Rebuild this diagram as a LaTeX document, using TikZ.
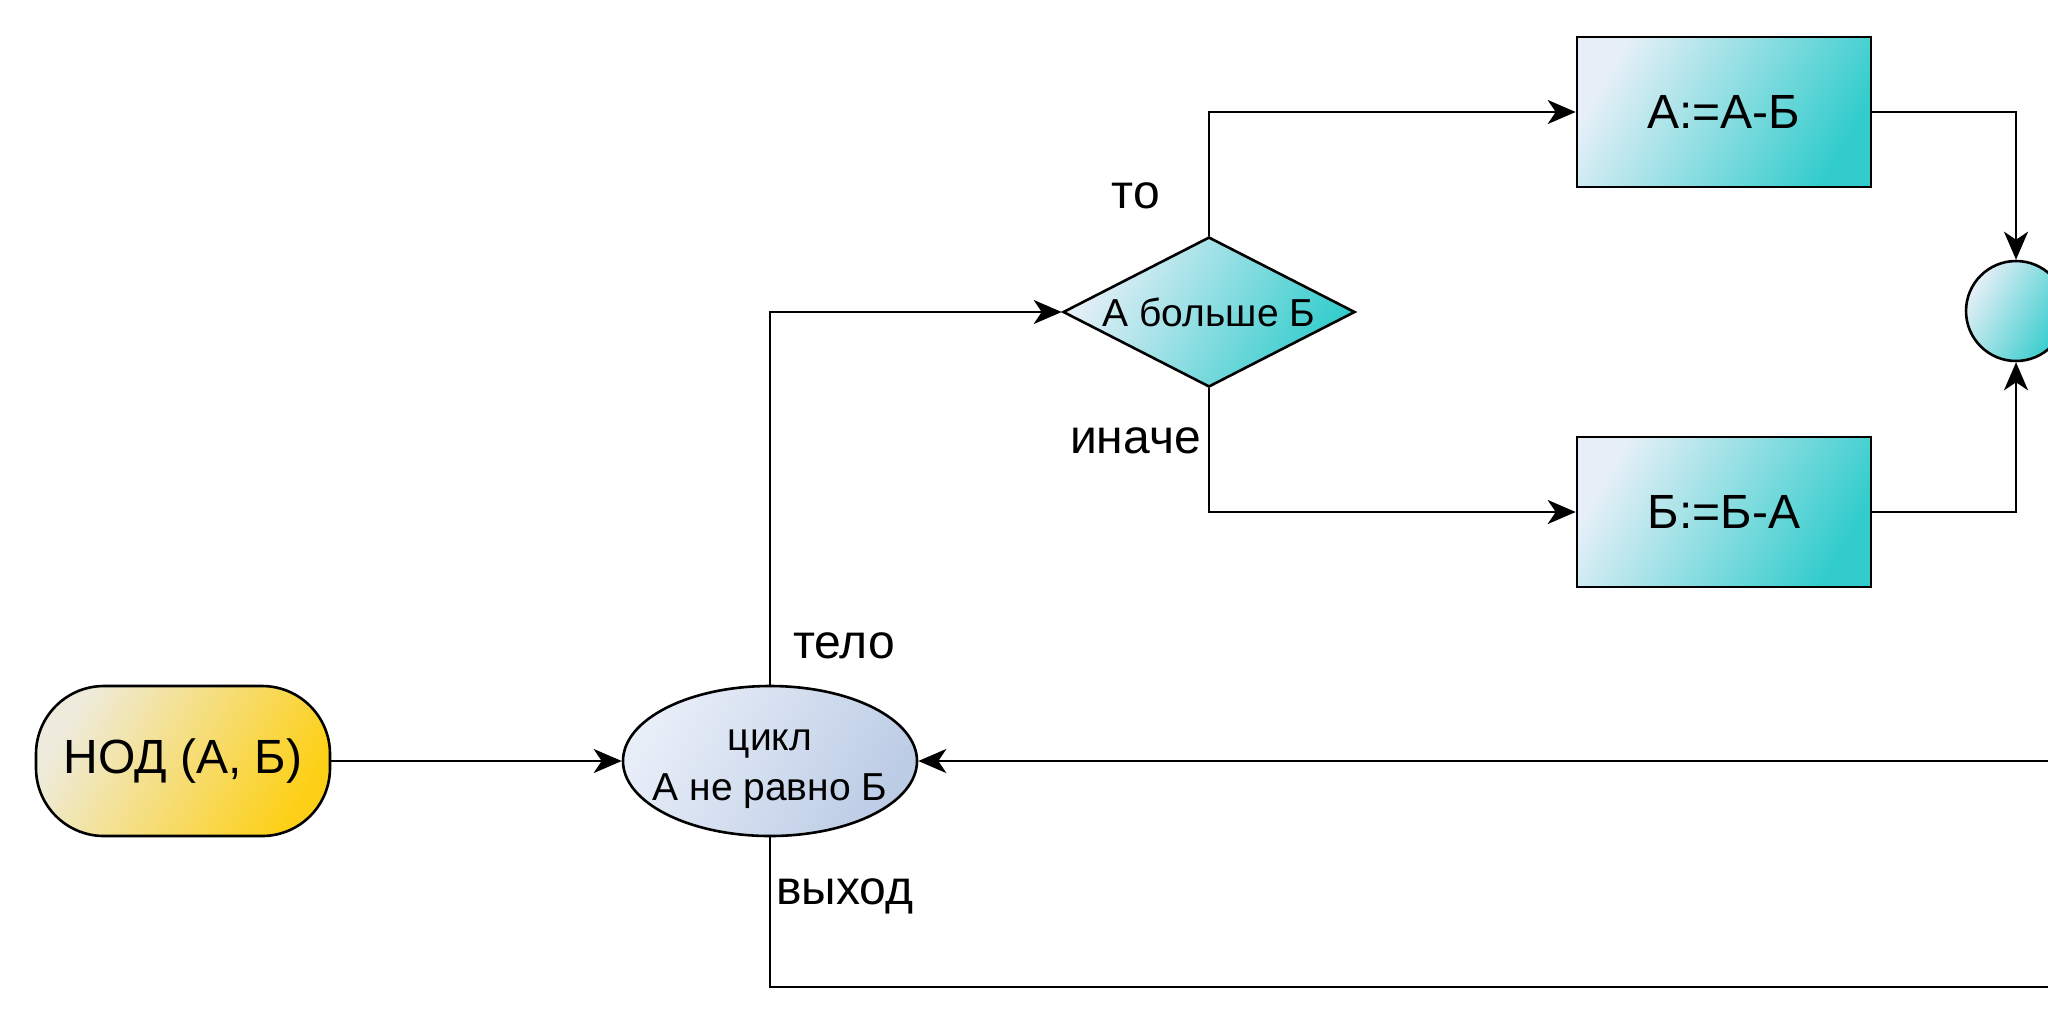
\documentclass[tikz,border=0pt]{standalone}
\usepackage{fontspec}
\setmainfont{Liberation Sans}
\usetikzlibrary{shapes.geometric,arrows.meta}

\definecolor{goldlight}{HTML}{EEEBDD}
\definecolor{golddark}{HTML}{FDD017}
\definecolor{bluelight}{HTML}{E8EEF8}
\definecolor{bluedark}{HTML}{BCCCE5}
\definecolor{teallight}{HTML}{E6EFF7}
\definecolor{tealdark}{HTML}{33CCCC}

\begin{document}
\begin{tikzpicture}[x=0.5pt,y=-0.5pt,line width=1.3pt,
  big/.style={font=\fontsize{24}{29}\selectfont},
  small/.style={font=\fontsize{19.5}{25}\selectfont},
  arr/.style={-{Stealth[length=14pt,width=12pt,inset=4pt]}},
  startnode/.style={draw,big,rounded corners=34pt,minimum width=147pt,minimum height=75pt,
    top color=goldlight,bottom color=golddark,shading angle=60},
  loopnode/.style={draw,ellipse,inner sep=0pt,minimum width=147pt,minimum height=75pt,
    top color=bluelight,bottom color=bluedark,shading angle=60},
  ifnode/.style={draw,diamond,small,aspect=2,inner sep=0pt,minimum width=146pt,minimum height=75pt,
    top color=teallight,bottom color=tealdark,shading angle=60},
  actnode/.style={draw,big,minimum width=147pt,minimum height=75pt,
    top color=teallight,bottom color=tealdark,shading angle=60},
  joinnode/.style={draw,circle,inner sep=0pt,minimum size=50pt,
    top color=teallight,bottom color=tealdark,shading angle=60},
  lbl/.style={big,inner sep=0pt}]
\useasboundingbox (0,0) rectangle (2048,1024);
\clip (0,0) rectangle (2048,1024);

% Nodes:
\node [startnode] (nod) at (183,761) {НОД (А, Б)};
\node [loopnode] (loop) at (770,761) {};
\node [small,align=center,inner sep=0pt] (looptext) at (770,769) {цикл\\А не равно Б};
\node [ifnode] (cond) at (1209,312) {А больше Б};
\node [actnode] (subA) at (1724,112) {А:=А-Б};
\node [actnode] (subB) at (1724,512) {Б:=Б-А};
\node [joinnode] (join) at (2016,311) {};
\coordinate (back) at (2048,761);
\coordinate (out) at (2048,987);

% Connectors:
\draw [arr] (nod) -- (loop);
\draw [arr] (loop.north) |- (cond.west);
\draw [arr] (cond.north) |- (subA.west);
\draw [arr] (cond.south) |- (subB.west);
\draw [arr] (subA.east) -| (join.north);
\draw [arr] (subB.east) -| (join.south);
\draw [arr] (back) -- (loop.east);
\draw (loop.south) |- (out);

% Labels:
\node [lbl,anchor=base west] (telo) at (792,658) {тело};
\node [lbl,anchor=base west] (vyhod) at (775,904) {выход};
\node [lbl,anchor=base] (to) at (1136,208) {то};
\node [lbl,anchor=base east] (inache) at (1202,453) {иначе};

\end{tikzpicture}
\end{document}
